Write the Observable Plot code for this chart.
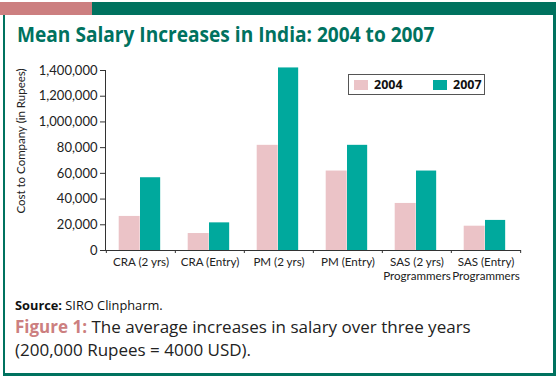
<!DOCTYPE html>
<html>
<head>
<meta charset="utf-8">
<script src="https://cdn.jsdelivr.net/npm/d3@7"></script>
<script src="https://cdn.jsdelivr.net/npm/@observablehq/plot@0.6"></script>
<style>
  html, body { margin: 0; padding: 0; background: #fff; }
  #wrap { position: relative; width: 558px; height: 380px; overflow: hidden; font-family: "Open Sans", sans-serif; }
  .abs { position: absolute; }
  #title { left: 17px; top: 20px; color: #00725f; font-weight: 700; font-size: 21px; white-space: nowrap; transform-origin: 0 0; transform: scaleX(0.91); line-height: 28px; }
  #ylab { left: 20px; top: 141px; font-family: Lato, sans-serif; font-size: 11.5px; color: #222; white-space: nowrap; transform: translate(-50%, -50%) rotate(-90deg); }
  #legend { left: 348px; top: 74px; width: 135px; height: 19px; border: 1px solid #555; background: #fff; font-weight: 700; font-size: 12.5px; color: #111; }
  .sw { position: absolute; top: 5px; width: 14px; height: 10px; }
  .lt { position: absolute; top: 0px; line-height: 20px; }
  #source { left: 15px; top: 296px; font-size: 12.8px; color: #111; white-space: nowrap; }
  #fig { left: 15px; top: 315px; font-size: 17px; color: #222; line-height: 23px; white-space: nowrap; }
  #fig b { color: #cc7f80; }
</style>
</head>
<body>
<div id="wrap">
  <div class="abs" style="left:0;top:2px;width:92px;height:13px;background:#cc7f80"></div>
  <div class="abs" style="left:92px;top:2px;width:464px;height:13px;background:#00725f"></div>
  <div class="abs" style="left:3px;top:15px;width:2px;height:361px;background:#00725f"></div>
  <div class="abs" style="left:553px;top:15px;width:2.5px;height:361px;background:#00725f"></div>
  <div class="abs" style="left:3px;top:373px;width:552px;height:3px;background:#00725f"></div>
  <div id="title" class="abs">Mean Salary Increases in India: 2004 to 2007</div>
  <div id="chart" class="abs" style="left:0;top:50px;"></div>
  <div id="ylab" class="abs">Cost to Company (in Rupees)</div>
  <div id="legend" class="abs"></div>
  <div id="source" class="abs"><b>Source:</b> SIRO Clinpharm.</div>
  <div id="fig" class="abs"><b>Figure 1:</b> The average increases in salary over three years<br>(200,000 Rupees = 4000 USD).</div>
</div>
<script>
const categories = ["CRA (2 yrs)", "CRA (Entry)", "PM (2 yrs)", "PM (Entry)", "SAS (2 yrs)\nProgrammers", "SAS (Entry)\nProgrammers"];
const values2004 = [265000, 132000, 818000, 618000, 366000, 189000];
const values2007 = [566000, 215000, 1420000, 818000, 618000, 234000];
const years = ["2004", "2007"];
const yearColors = ["#ebc3c7", "#00a99d"];
const yTicks = [0, 200000, 400000, 600000, 800000, 1000000, 1200000, 1400000];
const yTickLabels = ["0", "20,000", "40,000", "60,000", "80,000", "1,000,000", "1,200,000", "1,400,000"];

const data = [];
categories.forEach((c, i) => {
  data.push({category: c, year: years[0], value: values2004[i]});
  data.push({category: c, year: years[1], value: values2007[i]});
});

const W = 558, H = 245, mL = 105, mR = 37, mT = 20, mB = 45;
const bw = (W - mL - mR) / categories.length;

const chart = Plot.plot({
  width: W, height: H,
  marginLeft: mL, marginRight: mR, marginTop: mT, marginBottom: mB,
  style: {fontFamily: "Lato, sans-serif", color: "#222", background: "transparent"},
  x: {domain: categories, padding: 0, axis: null, label: null},
  y: {domain: [0, 1400000], axis: null, label: null},
  marks: [
    Plot.barY(data.filter(d => d.year === years[0]), {x: "category", y: "value", fill: yearColors[0], insetLeft: 12.7, insetRight: bw - 34}),
    Plot.barY(data.filter(d => d.year === years[1]), {x: "category", y: "value", fill: yearColors[1], insetLeft: 34, insetRight: bw - 54.5}),
    Plot.axisY({ticks: yTicks, label: null, tickFormat: (d) => yTickLabels[yTicks.indexOf(d)], tickSize: 5, tickPadding: 3, fontSize: 13, stroke: "#333", strokeOpacity: 1, color: "#222"}),
    Plot.frame({anchor: "left", stroke: "#333"}),
    Plot.ruleY([0], {stroke: "#333"}),
    Plot.axisX({label: null, tickSize: 0, tickPadding: 5, fontSize: 11.6, lineHeight: 1.25, color: "#222"}),
    Plot.axisX({label: null, tickSize: 3, tickFormat: () => "", dx: -bw / 2, stroke: "#333", strokeOpacity: 1}),
    Plot.axisX({label: null, ticks: [categories[categories.length - 1]], tickSize: 3, tickFormat: () => "", dx: bw / 2, stroke: "#333", strokeOpacity: 1})
  ]
});
document.getElementById("chart").appendChild(chart);

const legend = document.getElementById("legend");
const legendPos = [[5, 25], [84, 104]];
years.forEach((y, i) => {
  const sw = document.createElement("div");
  sw.className = "sw";
  sw.style.left = legendPos[i][0] + "px";
  sw.style.background = yearColors[i];
  legend.appendChild(sw);
  const t = document.createElement("div");
  t.className = "lt";
  t.style.left = legendPos[i][1] + "px";
  t.textContent = y;
  legend.appendChild(t);
});
</script>
</body>
</html>
